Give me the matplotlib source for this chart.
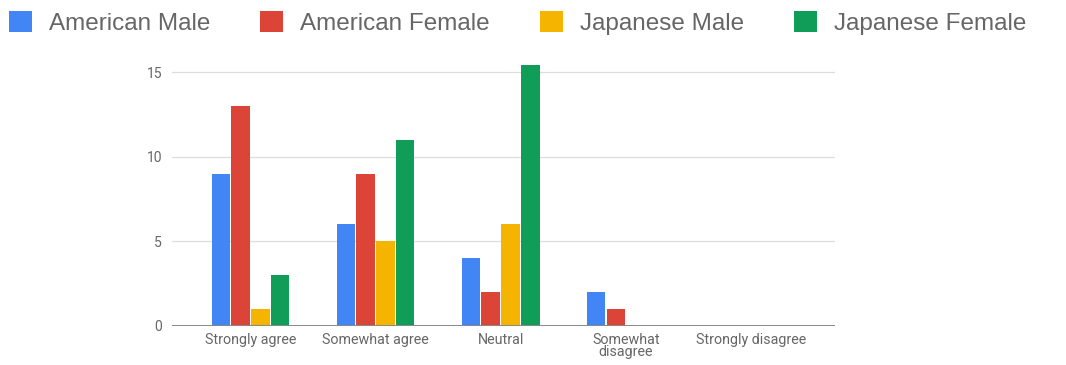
import numpy as np
import matplotlib.pyplot as plt

# --- data ---
categories = ["Strongly agree", "Somewhat agree", "Neutral", "Somewhat\ndisagree", "Strongly disagree"]
american_male = [9, 6, 4, 2, 0]
american_female = [13, 9, 2, 1, 0]
japanese_male = [1, 5, 6, 0, 0]
japanese_female = [3, 11, 15.4, 0, 0]

series = [american_male, american_female, japanese_male, japanese_female]
labels = ["American Male", "American Female", "Japanese Male", "Japanese Female"]
colors = ["#4285F4", "#DB4437", "#F4B400", "#0F9D58"]

plt.rcParams['font.family'] = ['Roboto', 'DejaVu Sans']

fig = plt.figure(figsize=(10.66, 3.65), dpi=100)
ax = fig.add_axes([0.161, 0.107, 0.622, 0.723])

x = np.arange(len(categories))
w = 0.158
for i, vals in enumerate(series):
    ax.bar(x + (i - 1.5) * w, vals, width=w * 0.94, color=colors[i], label=labels[i], zorder=3)

ax.set_xlim(-0.63, 4.67)
ax.set_ylim(0, 15.6)
ax.set_yticks([0, 5, 10, 15])
ax.set_xticks(x)
ax.set_xticklabels(categories, fontsize=10.3, color="#666666", linespacing=0.85)
ax.tick_params(axis='y', labelsize=10, labelcolor="#666666", length=0, pad=7)
ax.tick_params(axis='x', length=0, pad=5)
ax.grid(axis='y', color="#dddddd", linewidth=0.9, zorder=0)
for s in ax.spines.values():
    s.set_visible(False)
ax.axhline(0, color="#888888", linewidth=1.4, zorder=4)

# legend across the top
fig.legend(loc='upper left', bbox_to_anchor=(-0.012, 1.03), ncol=4, frameon=False,
           prop={'family': 'Liberation Sans', 'size': 17.5}, labelcolor="#666666",
           handlelength=0.95, handleheight=0.95,
           handletextpad=0.7, columnspacing=2.05)

plt.savefig("out.png", dpi=100)
